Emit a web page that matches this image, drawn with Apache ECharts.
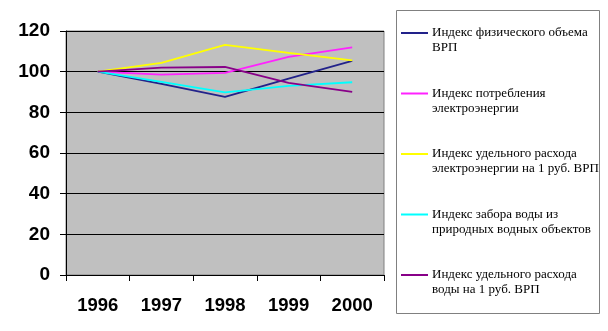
<!DOCTYPE html>
<html>
<head>
<meta charset="utf-8">
<script src="https://cdn.jsdelivr.net/npm/echarts@6/dist/echarts.min.js"></script>
<style>
  html, body { margin: 0; padding: 0; background: #ffffff; }
  #chart { width: 608px; height: 331px; }
</style>
</head>
<body>
<div id="chart"></div>
<script>
// Years on the category axis
const years = ['1996', '1997', '1998', '1999', '2000'];

// Index values, 1996 = 100
const grpVolume      = [100, 94.0, 87.6, 96.6, 105.3];
const powerUse       = [100, 98.5, 99.4, 107.3, 111.9];
const powerPerRuble  = [100, 104.3, 113.2, 109.2, 105.6];
const waterIntake    = [100, 95.0, 89.8, 93.0, 94.8];
const waterPerRuble  = [100, 102.0, 102.3, 94.5, 90.1];

// Legend texts (two lines each)
const seriesNames = [
  'Индекс физического объема\nВРП',
  'Индекс потребления\nэлектроэнергии',
  'Индекс удельного расхода\nэлектроэнергии на 1 руб. ВРП',
  'Индекс забора воды из\nприродных водных объектов',
  'Индекс удельного расхода\nводы на 1 руб. ВРП'
];
const seriesData = [grpVolume, powerUse, powerPerRuble, waterIntake, waterPerRuble];
const seriesColors = ['#22228a', '#ff22ff', '#ffff00', '#00ffff', '#880088'];

const chart = echarts.init(document.getElementById('chart'), null, { renderer: 'canvas' });

// Legend drawn as a framed box on the right
const legendGraphics = [{
  type: 'rect',
  shape: { x: 396.5, y: 10.5, width: 203, height: 303 },
  style: { fill: '#ffffff', stroke: '#808080', lineWidth: 1 }
}];
seriesNames.forEach((name, i) => {
  const y = 33 + i * 60.5;
  legendGraphics.push({
    type: 'line',
    shape: { x1: 401, y1: y, x2: 428, y2: y },
    style: { stroke: seriesColors[i], lineWidth: 2 }
  });
  legendGraphics.push({
    type: 'text',
    x: 432, y: y - 7.5,
    style: {
      text: name,
      font: '13px "Liberation Serif", "DejaVu Serif", serif',
      fill: '#000000',
      lineHeight: 15,
      verticalAlign: 'top'
    }
  });
});

chart.setOption({
  animation: false,
  backgroundColor: '#ffffff',
  grid: {
    left: 66, right: 224, top: 31, bottom: 56,
    show: true, backgroundColor: '#c0c0c0', borderColor: '#808080', borderWidth: 1
  },
  xAxis: {
    type: 'category',
    data: years,
    boundaryGap: true,
    axisLine: { lineStyle: { color: '#000000', width: 1 } },
    axisTick: { show: true, length: 6, lineStyle: { color: '#000000' } },
    axisLabel: {
      margin: 21,
      color: '#000000',
      fontFamily: '"Liberation Sans", Arial, sans-serif',
      fontWeight: 'bold',
      fontSize: 18.5
    },
    splitLine: { show: false }
  },
  yAxis: {
    type: 'value',
    min: 0, max: 120, interval: 20,
    axisLine: { show: true, lineStyle: { color: '#000000', width: 1 } },
    axisTick: { show: true, length: 6, lineStyle: { color: '#000000' } },
    axisLabel: {
      margin: 16,
      color: '#000000',
      fontFamily: '"Liberation Sans", Arial, sans-serif',
      fontWeight: 'bold',
      fontSize: 19
    },
    splitLine: { show: true, lineStyle: { color: '#000000', width: 1 } }
  },
  series: seriesData.map((data, i) => ({
    name: seriesNames[i],
    type: 'line',
    data: data,
    symbol: 'none',
    lineStyle: { color: seriesColors[i], width: 1.8 },
    itemStyle: { color: seriesColors[i] },
    z: 3
  })),
  graphic: legendGraphics
});
</script>
</body>
</html>
